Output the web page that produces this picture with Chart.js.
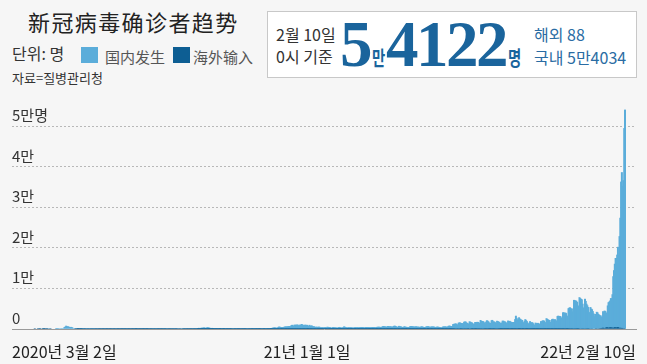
<!DOCTYPE html>
<html>
<head>
<meta charset="utf-8">
<script src="https://cdn.jsdelivr.net/npm/chart.js@4"></script>
<style>
  body { margin: 0; width: 647px; height: 364px; overflow: hidden; position: relative;
         background: #f6f6f6; color: #333;
         font-family: "Liberation Sans Narrow", "Noto Sans CJK KR", sans-serif; }
  #chart { position: absolute; left: 0; top: 0; }
  .t { position: absolute; white-space: nowrap; line-height: 1; }
  .sq { position: absolute; width: 17px; height: 16px; }
  .blue { color: #2a6ca3; }
  .big { font-family: "Liberation Serif", serif; font-weight: bold; font-size: 65px; color: #1a649c; }
  .unit { font-weight: bold; font-size: 20px; color: #1a649c; transform: scaleX(0.72); transform-origin: left; }
</style>
</head>
<body>

<div class="t" style="left:28px;top:5px;font:22px 'Noto Sans CJK SC';letter-spacing:1.4px;color:#222">新冠病毒确诊者趋势</div>
<div class="t" style="left:12px;top:45px;font-size:16px">단위: 명</div>
<div class="sq" style="left:81px;top:47px;background:#5badda"></div>
<div class="t" style="left:105px;top:46px;font:15px 'Noto Sans CJK SC';color:#555">国内发生</div>
<div class="sq" style="left:173px;top:47px;background:#0d5e93"></div>
<div class="t" style="left:193px;top:46px;font:15px 'Noto Sans CJK SC';color:#555">海外输入</div>
<div class="t" style="left:12px;top:71px;font-size:13px">자료=질병관리청</div>

<!-- 오른쪽 박스 -->
<div style="position:absolute;left:267px;top:11px;width:368px;height:65px;border:1px solid #c8c8c8;background:#fff"></div>
<div class="t" style="left:276px;top:26px;font-size:16px">2월 10일</div>
<div class="t" style="left:276px;top:48px;font-size:16px">0시 기준</div>
<div class="t big" style="left:340px;top:12px">5</div>
<div class="t unit" style="left:372px;top:48px">만</div>
<div class="t big" style="left:386px;top:12px;letter-spacing:-2.5px">4122</div>
<div class="t unit" style="left:508px;top:48px">명</div>
<div class="t blue" style="left:534px;top:26px;font-size:16px">해외 88</div>
<div class="t blue" style="left:534px;top:49px;font-size:16px">국내 5만4034</div>

<canvas id="chart" width="647" height="364"></canvas>

<script>
// 일별 확진자, 2020-01-20(월)부터 한 줄 = 한 주 (월~일)
const START = '2020-01-20'

const domestic = [
  0,0,0,0,0,0,0, 0,0,0,1,0,1,1, 0,1,1,0,1,0,1, 0,0,0,0,0,0,1,
  1,1,20,53,100,229,169, 231,144,284,505,571,813,586, 686,600,516,438,518,483,367, 248,131,242,114,110,107,76,
  60,70,80,130,70,110,60, 44,49,49,65,50,105,48, 41,85,65,49,48,64,41, 27,22,29,19,13,15,17,
  10,15,14,12,10,11,4, 6,4,4,3,2,4,3, 2,3,2,1,3,2,2, 1,1,1,8,12,18,28,
  29,26,22,21,21,15,13, 13,11,9,21,11,20,20, 16,18,39,68,56,32,24, 29,30,41,34,35,49,42,
  35,34,45,43,45,32,30, 25,22,31,49,22,33,35, 30,17,38,28,28,51,30, 30,30,36,41,52,44,43,
  24,24,33,27,19,23,21, 14,12,14,39,18,22,12, 11,8,23,26,14,28,25, 8,14,13,18,14,20,20,
  23,15,16,21,16,20,23, 24,21,44,47,85,155,267, 188,235,283,276,315,326,386, 258,264,307,434,359,308,283,
  238,229,253,188,189,152,158, 108,128,145,144,161,121,99, 98,91,105,145,110,93,72, 61,55,99,114,102,51,73,
  40,23,49,63,67,52,64, 59,64,105,54,49,58,72, 91,89,84,47,73,91,47, 58,70,89,114,138,61,96,
  119,88,103,114,96,114,124, 78,101,75,118,89,143,126, 100,118,113,162,162,176,193, 202,223,293,320,343,361,302,
  255,318,363,553,525,486,438, 414,420,493,516,600,559,615, 594,662,673,643,673,928,1002, 682,848,1054,1008,1016,1025,1071,
  903,837,1059,955,1216,1104,946, 787,1014,1029,936,1004,809,641,
  // 2021
  985,694,806,838,641,616,641, 419,513,524,499,488,554,500, 373,368,374,380,323,400,371, 416,318,521,469,437,432,330,
  280,315,446,431,353,372,344, 269,281,425,481,387,344,313, 326,430,590,533,424,403,318, 343,426,384,387,402,343,336,
  331,333,410,380,398,398,405, 300,432,431,451,459,465,373, 362,368,450,430,445,443,404, 384,411,415,477,481,469,426,
  368,427,490,536,519,520,508, 460,463,641,667,658,591,586, 566,532,705,680,616,645,618, 514,524,711,773,766,649,624,
  467,488,748,658,627,587,464, 465,528,667,548,509,511,445, 436,495,605,696,700,651,586, 594,506,616,628,539,538,557,
  509,420,570,625,575,515,459, 416,438,641,580,681,603,540, 458,586,588,579,590,545,428, 372,522,568,535,484,453,405,
  332,374,578,587,610,586,580, 482,565,740,807,765,719,690,
  720,1180,1227,1240,1316,1252,1043, 1047,1505,1533,1566,1416,1398,1410, 1201,1726,1781,1784,1574,1425,1276, 1280,1770,1725,1617,1564,1421,1158,
  1176,1670,1697,1660,1720,1665,1443, 1484,2150,1946,1928,1847,1765,1516, 1331,1763,2095,2011,1845,1592,1383, 1473,2112,2197,1841,1803,1750,1571,
  1429,1959,1909,1668,1776,1464,1351, 1574,2024,2026,1864,1836,1726,1409, 1474,2052,1911,1974,1877,1579,1695, 1577,1703,1692,2405,3237,2728,2350,
  2264,2867,2548,2459,2042,2221,1643, 1540,1994,2393,2149,1935,1573,1268, 1382,1901,1650,1596,1653,1397,1031, 1053,1547,1418,1416,1485,1397,1234,
  1171,1914,1734,2083,2103,2033,1666, 1566,2643,2456,2320,2224,2194,1734, 1685,2401,2492,2339,2295,2396,1979, 2094,3163,3264,3002,3170,3090,2800,
  2666,4081,4080,3900,4030,3888,3284, 3002,5092,5221,5290,4882,5082,4282, 4883,7096,7047,6963,6924,6644,5772, 5518,7768,7532,7342,7235,6164,5250,
  5114,7353,6855,6150,5774,5357,4123, 3783,5296,4943,4792,4308,3716,3005,
  // 2022
  3600,2880,4050,3950,3550,3350,3150, 3128,2749,2852,4073,3913,4334,4142, 3502,3661,5444,6308,6474,6590,7301,
  7122,8310,12713,14227,15662,17131,17168, 18002,19803,18046,22647,27133,36137,38436, 35031,36526,49375,54034
]

const overseas = [
  1,0,0,0,1,0,1, 1,0,0,1,2,3,1, 0,1,1,0,0,0,1, 0,0,0,0,0,0,0,
  0,0,0,0,0,0,0, 0,0,0,0,0,0,0, 0,0,0,0,0,0,0, 0,0,0,1,0,1,2,
  14,14,13,22,17,37,38, 20,27,51,39,41,41,57, 37,40,36,40,38,30,40, 20,25,24,20,14,15,15,
  15,12,13,10,12,7,4, 7,5,7,5,4,6,7, 8,11,7,8,6,7,11, 7,2,3,4,6,6,6,
  6,1,4,6,6,4,2, 2,2,4,5,9,3,5, 3,1,1,11,2,7,3, 6,8,8,5,4,8,3,
  3,4,5,7,4,17,7, 12,12,12,10,26,14,13, 17,13,13,11,11,11,12, 12,12,15,13,11,19,18,
  24,20,30,23,12,12,23, 19,17,19,21,21,17,14, 34,37,40,33,45,86,33, 20,15,5,10,22,11,10,
  11,5,10,9,10,10,6, 4,13,10,9,18,11,12, 9,11,14,12,9,6,11, 8,16,13,7,12,15,16,
  10,6,14,7,9,16,9, 11,8,10,11,15,15,22, 11,15,8,8,16,17,10, 9,6,11,11,12,10,22,
  10,15,14,14,10,12,11, 14,11,9,14,23,14,25, 6,13,13,14,37,19,29, 18,21,32,7,17,16,23,
  11,15,22,11,18,10,3, 19,24,23,27,23,20,17, 26,25,30,28,29,29,15, 21,23,20,23,20,25,28,
  16,31,19,30,44,18,12, 24,31,18,24,29,24,16, 21,24,13,39,16,22,28, 36,32,24,6,46,28,26,
  23,32,31,30,24,28,24, 21,31,21,31,24,11,16,
  // 2021
  35,21,32,31,33,25,24, 32,24,38,25,24,26,20, 16,18,30,20,23,31,21, 21,31,38,28,32,26,25,
  25,21,21,20,17,21,28, 20,22,19,23,16,18,13, 17,27,31,28,24,13,14, 14,14,12,19,13,12,19,
  24,11,12,14,20,18,11, 13,14,14,14,30,17,9, 20,13,19,15,8,13,11, 11,17,15,17,13,25,16,
  16,20,16,15,24,23,14, 13,15,27,33,19,23,28, 21,10,26,18,17,16,16, 18,25,20,24,31,23,20,
  33,24,21,22,34,19,24, 23,11,9,19,16,14,18, 27,16,30,19,15,30,24, 25,22,23,26,22,24,26,
  21,23,24,22,24,13,21, 15,21,36,25,14,22,25, 27,16,14,22,25,20,24, 27,24,27,10,23,29,24,
  25,21,16,23,24,29,30, 19,30,22,19,29,24,21,
  26,32,48,36,62,72,57, 53,45,82,33,50,54,42, 77,58,61,58,56,62,42, 38,126,49,47,46,21,60,
  43,32,28,44,49,52,49, 45,73,41,62,81,52,40, 41,42,57,41,35,34,35, 36,43,39,41,38,43,48,
  58,65,52,41,28,26,24, 23,26,23,28,29,29,24, 23,28,33,34,32,25,25, 28,26,24,29,36,43,33,
  25,18,16,27,44,27,30, 35,34,34,27,18,21,29, 38,39,34,22,20,23,19, 20,24,23,23,23,25,32,
  19,38,26,28,21,28,20, 23,24,26,24,23,30,24, 30,24,28,29,29,23,27, 31,24,28,32,36,30,27,
  33,35,35,38,38,40,24, 30,31,45,62,62,46,43, 71,79,55,59,53,45,45, 49,82,90,93,79,72,68,
  88,103,64,83,68,62,84, 82,113,94,83,108,117,124,
  // 2022
  99,198,187,152,174,198,178, 248,258,245,315,254,208,280, 355,409,360,295,295,419,329,
  391,261,299,291,434,382,360, 340,467,297,260,310,225,255, 255,191,192,88
]

const yTicks = [0, 10000, 20000, 30000, 40000, 50000]
const yTickLabels = ['0', '1만', '2만', '3만', '4만', '5만명']
const xTickLabels = ['2020년 3월 2일', '21년 1월 1일', '22년 2월 10일']
const MID_DATE = '2021-01-01'

const dayOf = (d) => Math.round((Date.parse(d) - Date.parse(START)) / 86400000)
const points = (arr) => arr.map((v, i) => ({ x: i, y: v }))

const FONT = '"Liberation Sans Narrow", "Noto Sans CJK KR", sans-serif'

new Chart(document.getElementById('chart'), {
  type: 'bar',
  data: {
    datasets: [
      { label: '海外输入', data: points(overseas), backgroundColor: '#0d5e93' },
      { label: '国内发生', data: points(domestic), backgroundColor: '#5badda' },
    ],
  },
  options: {
    responsive: false,
    animation: false,
    layout: { padding: { left: 12, right: 11, top: 102, bottom: 0 } },
    // 하루 폭이 1px 안되므로 조금 겹쳐서 빈틈 없게
    datasets: { bar: { barThickness: 2, borderWidth: 0, inflateAmount: 0 } },
    plugins: {
      legend: { display: false },
      tooltip: { enabled: false },
    },
    scales: {
      x: {
        type: 'linear',
        stacked: true,
        offset: false,
        min: -29,
        max: 766,
        grid: { display: false },
        border: { display: true, color: '#9a9a9a', width: 1 },
        afterBuildTicks: (s) => {
          s.ticks = [{ value: s.min }, { value: dayOf(MID_DATE) }, { value: s.max }]
        },
        afterFit: (s) => { s.height = 35 },
        ticks: {
          align: 'inner',
          autoSkip: false,
          maxRotation: 0,
          padding: 5,
          color: '#222',
          font: { family: FONT, size: 16 },
          callback: (v, i) => xTickLabels[i],
        },
      },
      y: {
        stacked: true,
        min: 0,
        max: 56000,
        grid: {
          drawTicks: false,
          color: (c) => (c.tick && c.tick.value === 0 ? 'transparent' : '#b8b8b8'),
        },
        border: { display: false, dash: [2, 2] },
        afterBuildTicks: (s) => { s.ticks = yTicks.map((v) => ({ value: v })) },
        afterFit: (s) => { s.width = 0 },
        ticks: {
          mirror: true,
          padding: 0,
          labelOffset: -11,
          color: '#333',
          font: { family: FONT, size: 15 },
          callback: (v, i) => yTickLabels[i],
        },
      },
    },
  },
})
</script>
</body>
</html>
